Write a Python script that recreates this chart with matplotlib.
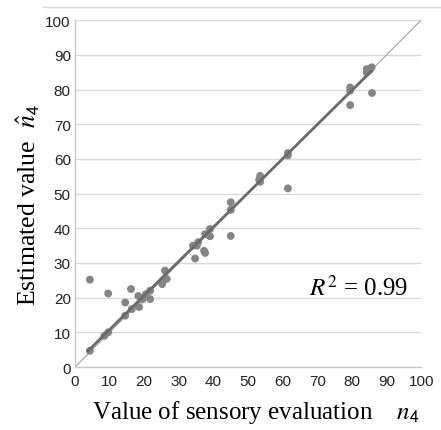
import numpy as np
import matplotlib
matplotlib.use("Agg")
import matplotlib.pyplot as plt
from matplotlib.lines import Line2D

plt.rcParams['mathtext.fontset'] = 'stix'

# Data
sensory = [4.3, 4.3, 9.6, 8.5, 9.6, 14.5, 14.5, 16.2, 16.4, 18.3, 18.5, 21.7, 21.7,
           20.5, 19.5, 26.0, 25.2, 26.5, 25.5, 34.1, 34.7, 35.2, 35.6, 37.6, 39.0,
           39.0, 37.6, 37.3, 45.0, 45.0, 45.0, 53.5, 53.5, 53.2, 61.5, 61.5, 61.5,
           79.5, 79.5, 79.5, 84.3, 85.7, 84.3, 85.8, 85.0]
estimated = [25.2, 4.7, 21.2, 9.0, 10.0, 18.6, 14.8, 22.5, 16.7, 20.5, 17.3, 22.0, 19.6,
             21.0, 19.5, 27.8, 23.9, 25.4, 25.0, 35.0, 31.3, 35.0, 36.0, 38.3, 39.8,
             37.7, 32.9, 33.5, 47.5, 45.3, 37.8, 55.1, 53.4, 54.0, 61.7, 61.0, 51.5,
             80.6, 79.7, 75.5, 85.9, 86.4, 84.9, 79.0, 85.5]
fit_x = [3.8, 85.7]          # extent of the regression line
fit_slope = 0.985
fit_intercept = 0.95
identity_x = [0, 100]
ticks = [0, 10, 20, 30, 40, 50, 60, 70, 80, 90, 100]
r2_text = r'$R^2$ = 0.99'

fig = plt.figure(figsize=(4.41, 4.31), dpi=100)
ax = fig.add_axes([0.170, 0.146, 0.785, 0.805])

x = np.array(sensory)
y = np.array(estimated)

ax.set_xlim(0, 100)
ax.set_ylim(0, 100)
ax.set_xticks(ticks)
ax.set_yticks(ticks)
ax.tick_params(axis='y', length=0, labelsize=11, pad=3)
ax.tick_params(axis='x', length=0, labelsize=11, pad=5)
for lab in ax.get_xticklabels() + ax.get_yticklabels():
    lab.set_fontfamily('Liberation Sans')
    lab.set_color('#222222')
ax.yaxis.grid(True, color='#dadada', linewidth=1.0)
ax.set_axisbelow(True)
for s in ['top', 'right']:
    ax.spines[s].set_visible(False)
for s in ['left', 'bottom']:
    ax.spines[s].set_color('#c8c8c8')
    ax.spines[s].set_linewidth(1.0)

# 1:1 line
ax.plot(identity_x, identity_x, color='#a0a0a0', linewidth=0.8, zorder=2)
# points
ax.scatter(x, y, s=32, color='#858585', edgecolors='none', zorder=3)
# regression line
xf = np.array(fit_x)
ax.plot(xf, fit_slope * xf + fit_intercept, color='#6a6a6a', linewidth=2.0, zorder=4)

ax.text(67.5, 23, r2_text, fontsize=18, family='Liberation Serif',
        ha='left', va='center', zorder=5)

ax.set_xlabel(r'Value of sensory evaluation    $n_{\mathsf{4}}$', fontsize=18,
              family='Liberation Serif')
ax.set_ylabel(r'Estimated value  $\hat{n}_{\mathsf{4}}$', fontsize=18.5,
              family='Liberation Serif')
ax.xaxis.set_label_coords(0.523, -0.088)
ax.yaxis.set_label_coords(-0.095, 0.47)

fig.add_artist(Line2D([43 / 441, 1.0], [1 - 8 / 431, 1 - 8 / 431],
                      color='#dadada', linewidth=1.0))

fig.savefig('out.png', dpi=100)
